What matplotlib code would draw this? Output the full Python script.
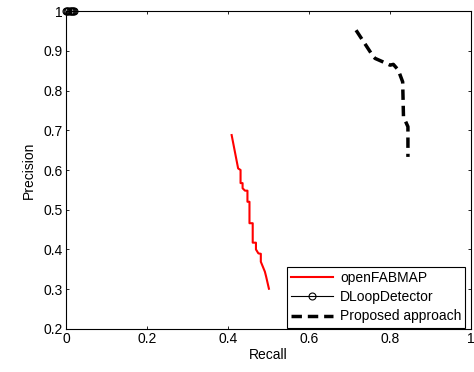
import matplotlib
matplotlib.use('Agg')
import matplotlib.pyplot as plt

plt.rcParams['font.family'] = ['Liberation Sans', 'DejaVu Sans']
plt.rcParams['font.size'] = 10

# openFABMAP precision-recall
fab_recall = [0.409, 0.425, 0.431, 0.431, 0.436, 0.436, 0.442, 0.448, 0.448, 0.453,
              0.453, 0.461, 0.461, 0.469, 0.469, 0.475, 0.481, 0.481, 0.491, 0.494, 0.501]
fab_prec = [0.688, 0.604, 0.600, 0.567, 0.567, 0.554, 0.548, 0.548, 0.520, 0.520,
            0.466, 0.466, 0.417, 0.417, 0.400, 0.390, 0.389, 0.369, 0.344, 0.332, 0.301]

# DLoopDetector: all at precision 1, very low recall
dl_recall = [0.0, 0.003, 0.006, 0.009, 0.012, 0.015, 0.018, 0.021]
dl_prec = [1.0] * len(dl_recall)

# proposed approach
prop_recall = [0.716, 0.759, 0.763, 0.783, 0.800, 0.808, 0.820, 0.831, 0.833, 0.844, 0.844]
prop_prec = [0.952, 0.885, 0.881, 0.872, 0.864, 0.866, 0.852, 0.822, 0.734, 0.709, 0.633]

fig = plt.figure(figsize=(4.74, 3.72), dpi=100)
ax = fig.add_axes([0.139, 0.116, 0.855, 0.854])

ax.plot(fab_recall, fab_prec, color='red', lw=1.5, label='openFABMAP')
ax.plot(dl_recall, dl_prec, color='black', lw=0.8, marker='o', ms=5,
        mfc='none', mew=0.8, label='DLoopDetector', clip_on=False, zorder=5)
ax.plot(prop_recall, prop_prec, color='black', lw=2.5, ls='--', dashes=(3, 1.7),
        label='Proposed approach')

ax.set_xlim(0, 1)
ax.set_ylim(0.2, 1)
ax.set_xticks([0, 0.2, 0.4, 0.6, 0.8, 1])
ax.set_xticklabels(['0', '0.2', '0.4', '0.6', '0.8', '1'])
ax.set_yticks([0.2, 0.3, 0.4, 0.5, 0.6, 0.7, 0.8, 0.9, 1])
ax.set_yticklabels(['0.2', '0.3', '0.4', '0.5', '0.6', '0.7', '0.8', '0.9', '1'])
ax.tick_params(direction='in', top=True, right=True, length=2.5, width=0.6, pad=2)
for s in ax.spines.values():
    s.set_linewidth(0.8)
ax.set_xlabel('Recall', labelpad=2)
ax.set_ylabel('Precision', labelpad=6)

leg = ax.legend(loc='lower right', bbox_to_anchor=(0.986, 0.004), borderaxespad=0,
                fancybox=False, edgecolor='black', framealpha=1,
                handlelength=3.0, labelspacing=0.38, borderpad=0.3,
                handletextpad=0.5, fontsize=10)
leg.get_frame().set_linewidth(0.8)

fig.savefig('out.png', dpi=100)
